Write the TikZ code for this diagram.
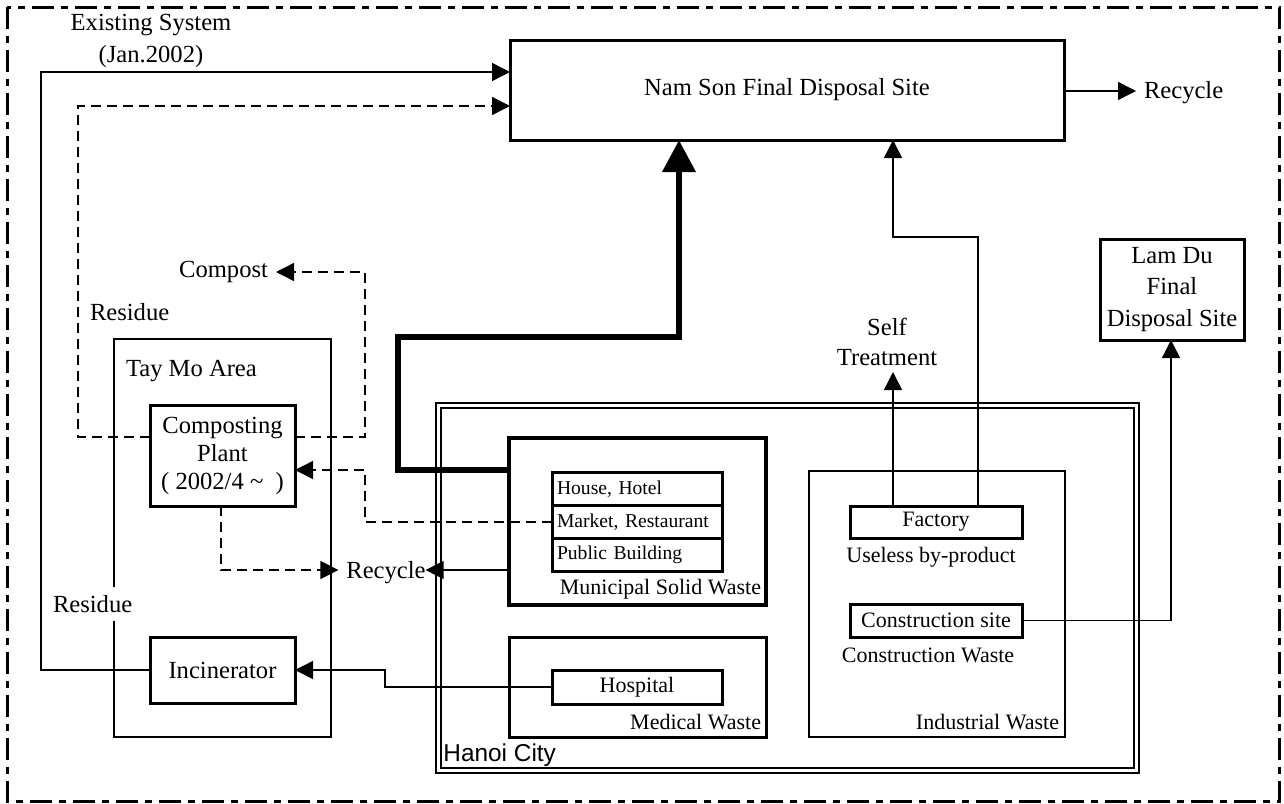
\documentclass[tikz,border=0pt]{standalone}
\usepackage{fontspec}
\setmainfont{Liberation Serif}
\newfontfamily\arialf{Liberation Sans}
\usetikzlibrary{arrows.meta,calc}
\newcommand\fL{\fontsize{12.3}{15}\selectfont}
\newcommand\fM{\fontsize{11}{13}\selectfont}
\newcommand\fS{\fontsize{9.8}{12}\selectfont}
\begin{document}
\begin{tikzpicture}[x=0.5pt,y=-0.5pt,
  box/.style={draw, line width=1.5pt, inner sep=0pt, outer sep=0pt, align=center, font=\fL},
  sub/.style={draw, line width=1.5pt, font=\fS, text width=80pt, align=left, inner xsep=2.5pt, inner ysep=0pt, minimum height=16.67pt, outer sep=0pt},
  txt/.style={inner sep=0pt, outer sep=0pt, font=\fL},
  conn/.style={line width=0.7pt, -{Triangle[length=9pt,width=9pt]}},
  dconn/.style={conn, dash pattern=on 5pt off 3pt},
  thick path/.style={line width=3.4pt, -{Triangle[length=16pt,width=16pt]}}]
\useasboundingbox (0,0) rectangle (1284,803);
\draw[line width=1.5pt, dash pattern=on 11pt off 3.5pt on 3.5pt off 3.5pt] (7,7) rectangle (1279,801);

% boxes
\node[box, minimum width=277pt, minimum height=50pt] (namson) at (787,90) {Nam Son Final Disposal Site};
\node[box, minimum width=72pt, minimum height=50.5pt, font=\fontsize{12.3}{15.75}\selectfont] (lamdu) at (1172,289.5) {Lam Du\\Final\\Disposal Site};
\node[box, line width=1.2pt, minimum width=108.5pt, minimum height=199pt] (taymo) at (222.5,538) {};
\node[txt, anchor=west] (taymol) at (126,371) {Tay Mo Area};
\node[box, minimum width=72.5pt, minimum height=50.5pt, font=\fontsize{12.3}{14}\selectfont] (comp) at (222.5,455.5) {Composting\\Plant\\( 2002/4 \textasciitilde\ \ )};
\node[box, minimum width=72.5pt, minimum height=33pt] (incin) at (222.5,670) {Incinerator};

\node[draw, line width=1pt, double, double distance=1.5pt, minimum width=349pt, minimum height=182.5pt, inner sep=0pt, outer sep=0pt] (hanoi) at (787.5,588) {};
\node[inner sep=0pt, font=\arialf\fontsize{12.2}{14}\selectfont, anchor=west] (hanoil) at (443,755) {Hanoi City};

\node[box, line width=2.2pt, minimum width=128.5pt, minimum height=83.5pt] (msw) at (637.5,521.5) {};
\node[sub] (house) at (637,488.7) {House, Hotel};
\node[sub] (market) at (637,522) {Market, Restaurant};
\node[sub] (public) at (637,555.3) {Public Building};
\node[txt, font=\fM, anchor=east] (mswl) at (761,589) {Municipal Solid Waste};

\node[box, minimum width=128.5pt, minimum height=50pt] (medical) at (637.5,687) {};
\node[box, font=\fM, minimum width=85pt, minimum height=17pt] (hosp) at (637,687) {Hospital};
\node[txt, font=\fM, anchor=east] (medl) at (761,722) {Medical Waste};

\node[box, line width=1.3pt, minimum width=128pt, minimum height=133pt] (ind) at (937,604) {};
\node[box, font=\fM, minimum width=86pt, minimum height=16pt] (fact) at (936,522) {Factory};
\node[txt, font=\fM] (usel) at (931,557) {Useless by-product};
\node[box, font=\fM, minimum width=86pt, minimum height=16.5pt] (cons) at (936,620.5) {Construction site};
\node[txt, font=\fM] (consl) at (928,655) {Construction Waste};
\node[txt, font=\fM, anchor=east] (indl) at (1059,722) {Industrial Waste};

% labels
\node[txt, align=center, font=\fontsize{12.3}{16}\selectfont] (exist) at (151,41) {Existing System\\(Jan.2002)};
\node[txt, anchor=east] (compost) at (268,272) {Compost};
\node[txt, anchor=west] (res1) at (90,312) {Residue};
\node[txt] (rec1) at (386,573) {Recycle};
\node[txt, anchor=west] (rec2) at (1144,93) {Recycle};
\node[txt, align=center, font=\fontsize{12.3}{15}\selectfont] (self) at (887,342) {Self\\Treatment};

% connectors
\draw[conn] (incin.west) -- (41,670) -- (41,72) -- ($(namson.north west)+(0,32)$);
\draw[dconn] ($(comp.north west)+(0,32)$) -- (78,437) -- (78,106) -- ($(namson.north west)+(0,66)$);
\draw[dconn] ($(comp.north east)+(0,32)$) -- (365,437) -- (365,272) -- ($(compost.east)+(8,0)$);
\draw[dconn] (market.west) -- (365,522) -- (365,470) -- ($(comp.north east)+(0,65)$);
\draw[dconn] ($(comp.south west)+(71,0)$) -- (221,570) -- ($(rec1.west)+(-8,-3)$);
\draw[conn] ($(msw.north west)+(0,132)$) -- ($(rec1.east)+(0,-3)$);
\draw[thick path] ($(msw.north west)+(0,32)$) -- (398,470) -- (398,337) -- (679,337) -- ($(namson.south west)+(169,0)$);
\draw[conn] ($(fact.north west)+(43,0)$) -- ($(fact.north west)+(43,-134)$);
\draw[conn] ($(fact.north west)+(128,0)$) -- (978,237) -- (893,237) -- ($(namson.south west)+(383,0)$);
\draw[conn] (cons.east) -- (1171,620.5) -- ($(lamdu.south)+(-1,0)$);
\draw[conn] (hosp.west) -- (385,687) -- (385,670) -- (incin.east);
\draw[conn] ($(namson.east)+(0,1)$) -- ($(rec2.west)+(-8,-2)$);

\node[txt, anchor=west, fill=white, inner ysep=4pt] (res2) at (53,604) {Residue};
\end{tikzpicture}
\end{document}
